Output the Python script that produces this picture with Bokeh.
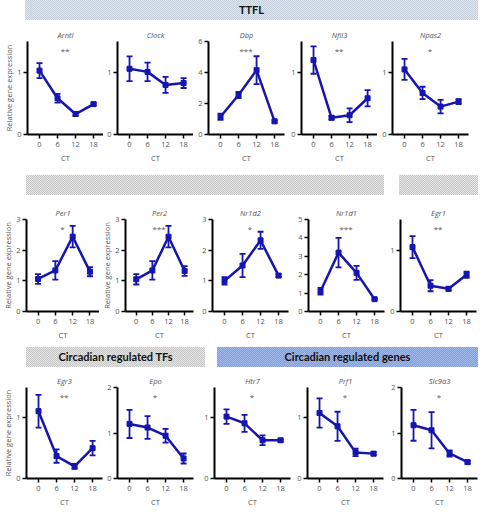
from bokeh.plotting import figure
from bokeh.layouts import column, row
from bokeh.models import Range1d, FixedTicker, Whisker, TeeHead, ColumnDataSource, Div, Spacer, Label
from bokeh.embed import file_html
from bokeh.resources import INLINE

# ---------------- data ----------------
ct = [0, 6, 12, 18]

arntl_mean = [1.03, 0.585, 0.33, 0.49]
arntl_err = [0.12, 0.07, 0.03, 0.02]
clock_mean = [1.06, 1.01, 0.80, 0.83]
clock_err = [0.20, 0.15, 0.13, 0.08]
dbp_mean = [1.15, 2.55, 4.15, 0.85]
dbp_err = [0.20, 0.20, 0.90, 0.08]
nfil3_mean = [1.20, 0.27, 0.31, 0.585]
nfil3_err = [0.22, 0.03, 0.11, 0.13]
npas2_mean = [1.05, 0.67, 0.45, 0.53]
npas2_err = [0.17, 0.10, 0.11, 0.04]

per1_mean = [1.06, 1.34, 2.44, 1.30]
per1_err = [0.16, 0.30, 0.35, 0.15]
per2_mean = [1.05, 1.34, 2.44, 1.32]
per2_err = [0.17, 0.30, 0.35, 0.16]
nr1d2_mean = [1.00, 1.50, 2.32, 1.17]
nr1d2_err = [0.12, 0.38, 0.28, 0.05]
nr1d1_mean = [1.10, 3.20, 2.10, 0.67]
nr1d1_err = [0.18, 0.80, 0.38, 0.04]
egr1_mean = [1.05, 0.42, 0.37, 0.60]
egr1_err = [0.18, 0.09, 0.03, 0.05]

egr3_mean = [1.11, 0.37, 0.20, 0.50]
egr3_err = [0.27, 0.11, 0.04, 0.12]
epo_mean = [1.20, 1.12, 0.94, 0.44]
epo_err = [0.31, 0.25, 0.15, 0.11]
htr7_mean = [1.02, 0.91, 0.63, 0.63]
htr7_err = [0.12, 0.14, 0.08, 0.02]
prf1_mean = [1.08, 0.86, 0.43, 0.41]
prf1_err = [0.24, 0.24, 0.06, 0.03]
slc9a3_mean = [1.17, 1.06, 0.55, 0.36]
slc9a3_err = [0.34, 0.40, 0.07, 0.03]

gene_names = ["Arntl", "Clock", "Dbp", "Nfil3", "Npas2",
              "Per1", "Per2", "Nr1d2", "Nr1d1", "Egr1",
              "Egr3", "Epo", "Htr7", "Prf1", "Slc9a3"]
significance = ["**", "", "***", "**", "*",
                "*", "***", "*", "***", "**",
                "**", "*", "*", "*", "*"]
y_max = [1.5, 1.5, 6, 1.5, 1.5,
         3, 3, 3, 5, 1.5,
         1.5, 2, 1.5, 1.5, 2]
y_ticks = [[0, 1], [0, 1], [0, 2, 4, 6], [0, 1], [0, 1],
           [0, 1, 2, 3], [0, 1, 2, 3], [0, 1, 2, 3], [0, 1, 2, 3, 4, 5], [0, 1],
           [0, 1], [0, 1, 2], [0, 1], [0, 1], [0, 1, 2]]
means = [arntl_mean, clock_mean, dbp_mean, nfil3_mean, npas2_mean,
         per1_mean, per2_mean, nr1d2_mean, nr1d1_mean, egr1_mean,
         egr3_mean, epo_mean, htr7_mean, prf1_mean, slc9a3_mean]
errs = [arntl_err, clock_err, dbp_err, nfil3_err, npas2_err,
        per1_err, per2_err, nr1d2_err, nr1d1_err, egr1_err,
        egr3_err, epo_err, htr7_err, prf1_err, slc9a3_err]
y_label_on = [True, False, False, False, False,
              True, True, False, False, False,
              True, False, False, False, False]

BLUE = "#1515b0"
FONT = "Open Sans"
TXT = "#555555"

# layout per row: widths, left borders, right borders, top border, frame height
row_specs = [
    dict(widths=[103, 90, 92, 92, 103], lefts=[27, 14, 15, 16, 15], rights=[0, 0, 1, 0, 12], top=21, fh=93),
    dict(widths=[99, 95, 95, 96, 95], lefts=[25, 18, 18, 19, 15], rights=[0, 1, 1, 1, 4], top=24, fh=92),
    dict(widths=[103, 91, 98, 93, 95], lefts=[26, 14, 20, 15, 16], rights=[1, 1, 2, 2, 3], top=20, fh=91),
]
BOTTOM = 34


def panel(i, width, left, right, top, fh):
    mean = means[i]
    err = errs[i]
    ymax = y_max[i]
    p = figure(width=width, height=top + fh + BOTTOM,
               x_range=Range1d(-4, 21.3), y_range=Range1d(0, ymax),
               output_backend="svg", toolbar_location=None,
               min_border_left=left, min_border_right=right,
               min_border_top=top, min_border_bottom=BOTTOM)
    p.outline_line_color = None
    p.xgrid.visible = False
    p.ygrid.visible = False
    p.background_fill_color = "white"
    p.border_fill_color = "white"

    p.title.text = gene_names[i]
    p.title.align = "center"
    p.title.text_font = FONT
    p.title.text_font_style = "italic"
    p.title.text_font_size = "7.5px"
    p.title.text_color = TXT
    p.title.standoff = 3

    for ax in (p.xaxis[0], p.yaxis[0]):
        ax.axis_line_width = 2
        ax.axis_line_color = "black"
        ax.major_tick_line_width = 1.5
        ax.major_tick_line_color = "black"
        ax.major_tick_out = 4
        ax.major_tick_in = 0
        ax.minor_tick_line_color = None
        ax.major_label_text_font = FONT
        ax.major_label_text_font_size = "7.5px"
        ax.major_label_text_color = TXT
        ax.major_label_standoff = 2
        ax.axis_label_text_font = FONT
        ax.axis_label_text_font_size = "7.5px"
        ax.axis_label_text_font_style = "normal"
        ax.axis_label_text_color = TXT
        ax.axis_label_standoff = 3
    p.xaxis.major_label_standoff = 3
    p.xaxis.ticker = FixedTicker(ticks=ct)
    p.yaxis.ticker = FixedTicker(ticks=y_ticks[i])
    p.xaxis.axis_label = "CT"
    if y_label_on[i]:
        p.yaxis.axis_label = "Relative gene expression"
        p.yaxis.axis_label_standoff = 0

    src = ColumnDataSource(dict(
        x=ct, y=mean,
        upper=[m + e for m, e in zip(mean, err)],
        lower=[m - e for m, e in zip(mean, err)]))
    p.line("x", "y", source=src, line_color=BLUE, line_width=2.5)
    p.scatter("x", "y", source=src, marker="square", size=5, color=BLUE)
    w = Whisker(base="x", upper="upper", lower="lower", source=src,
                line_color=BLUE, line_width=1.8,
                upper_head=TeeHead(size=6, line_color=BLUE, line_width=1.8),
                lower_head=TeeHead(size=6, line_color=BLUE, line_width=1.8))
    p.add_layout(w)

    if significance[i]:
        p.add_layout(Label(x=8.5, y=0.9 * ymax, text=significance[i],
                           text_align="center", text_baseline="middle",
                           text_font=FONT, text_font_size="8px", text_color=TXT))
    return p


def header(bars, h=20):
    inner = ""
    for left, width, text, bg, fg in bars:
        inner += (f'<div style="position:absolute;left:{left}px;top:0px;width:{width}px;height:{h}px;'
                  f'background-color:{bg[1]};'
                  f'background-image:repeating-conic-gradient({bg[0]} 0% 25%, {bg[2]} 0% 50%);'
                  f'background-size:2px 2px;'
                  f'font-family:Lato;font-weight:bold;font-size:11px;color:{fg};'
                  f'line-height:{h}px;text-align:center;">{text}</div>')
    html = f'<div style="position:relative;width:480px;height:{h}px;">{inner}</div>'
    return Div(text=html, width=480, height=h, margin=0)


TTFL_BG = ("#c4cdda", "#d2d8e2", "#e2e7ee")
GREY_BG = ("#c6c6c6", "#d5d5d5", "#e6e6e6")
BLUE_BG = ("#809ddb", "#8eaae2", "#a2bbec")

h1 = header([(25, 453, "TTFL", TTFL_BG, "#111111")])
h2 = header([(26, 358, "", GREY_BG, "#111111"), (399, 79, "", GREY_BG, "#111111")])
h3 = header([(26, 179, "Circadian regulated TFs", GREY_BG, "#111111"),
             (217, 261, "Circadian regulated genes", BLUE_BG, "#111111")])

rows = []
for r, spec in enumerate(row_specs):
    figs = []
    for c in range(5):
        i = r * 5 + c
        figs.append(panel(i, spec["widths"][c], spec["lefts"][c], spec["rights"][c],
                          spec["top"], spec["fh"]))
    rows.append(row(*figs, spacing=0))

layout = column(h1, rows[0], Spacer(height=7, margin=0), h2, rows[1],
                Spacer(height=2, margin=0), h3, rows[2], spacing=0)

open("out.html", "w").write(file_html(layout, INLINE))
